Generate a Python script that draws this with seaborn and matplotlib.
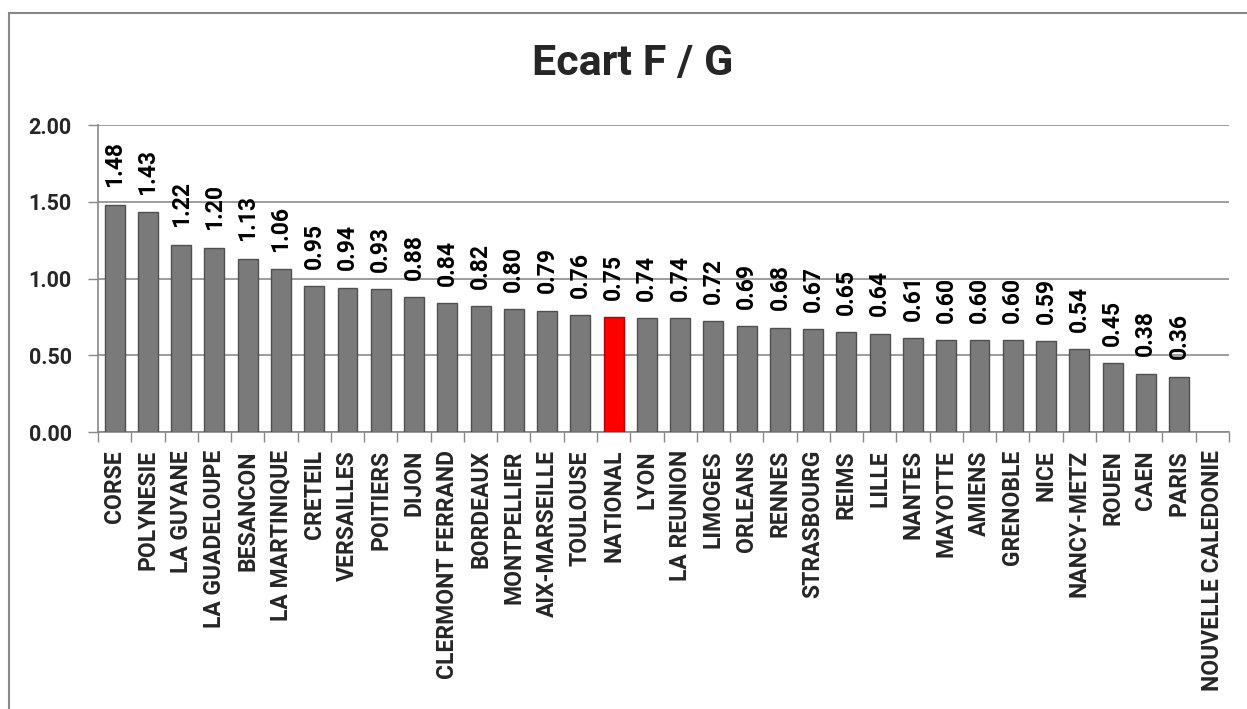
import numpy as np
import pandas as pd
import matplotlib
matplotlib.use("Agg")
import matplotlib.pyplot as plt
import seaborn as sns
from matplotlib.lines import Line2D

categories = ["CORSE", "POLYNESIE", "LA GUYANE", "LA GUADELOUPE", "BESANCON", "LA MARTINIQUE",
              "CRETEIL", "VERSAILLES", "POITIERS", "DIJON", "CLERMONT FERRAND", "BORDEAUX",
              "MONTPELLIER", "AIX-MARSEILLE", "TOULOUSE", "NATIONAL", "LYON", "LA REUNION",
              "LIMOGES", "ORLEANS", "RENNES", "STRASBOURG", "REIMS", "LILLE", "NANTES",
              "MAYOTTE", "AMIENS", "GRENOBLE", "NICE", "NANCY-METZ", "ROUEN", "CAEN", "PARIS",
              "NOUVELLE CALEDONIE"]
values = [1.48, 1.43, 1.22, 1.20, 1.13, 1.06, 0.95, 0.94, 0.93, 0.88, 0.84, 0.82, 0.80, 0.79,
          0.76, 0.75, 0.74, 0.74, 0.72, 0.69, 0.68, 0.67, 0.65, 0.64, 0.61, 0.60, 0.60, 0.60,
          0.59, 0.54, 0.45, 0.38, 0.36, np.nan]
highlight = "NATIONAL"
title = "Ecart F / G"
yticks = [0.0, 0.5, 1.0, 1.5, 2.0]

df = pd.DataFrame({"cat": categories, "val": values})

sns.set_theme(style="white")
plt.rcParams['font.family'] = ['Roboto', 'DejaVu Sans']

fig = plt.figure(figsize=(12.47, 7.09), dpi=100)
ax = fig.add_axes([98/1247, 1-432/709, (1229-98)/1247, (432-125)/709])

palette = {c: ("#ff0000" if c == highlight else "#7a7a7a") for c in categories}
sns.barplot(data=df, x="cat", y="val", hue="cat", order=categories, hue_order=categories,
            palette=palette, legend=False, width=0.6, saturation=1, ax=ax, zorder=3)

for p in ax.patches:
    fc = p.get_facecolor()
    if fc[0] > 0.9 and fc[1] < 0.1:
        p.set_edgecolor("#b00000")
    else:
        p.set_edgecolor("#505050")
    p.set_linewidth(1.0)

for i, v in enumerate(values):
    if np.isnan(v):
        continue
    ax.annotate(f"{v:.2f}", (i, v), xytext=(0, 12.5), textcoords="offset points",
                rotation=90, ha="center", va="bottom", fontsize=16.5, fontweight="bold",
                color="black")

ax.set_ylim(0, 2.0)
ax.set_xlim(-0.5, len(categories) - 0.5)
ax.set_yticks(yticks)
ax.set_yticklabels([f"{t:.2f}" for t in yticks], fontsize=15.5, fontweight="bold")
ax.set_xticks(range(len(categories)))
ax.set_xticklabels(categories, rotation=90, fontsize=16.5, fontweight="bold")
ax.set_xticks(np.arange(-0.5, len(categories), 1.0), minor=True)
ax.tick_params(axis="x", which="major", length=0, pad=13)
ax.tick_params(axis="x", which="minor", length=7, width=1, color="#888888", direction="out", bottom=True)
ax.tick_params(axis="y", length=7, width=1, color="#888888", direction="out", left=True, pad=12)
ax.set_xlabel("")
ax.set_ylabel("")
ax.grid(axis="y", color="#8c8c8c", linewidth=1.2, zorder=0)
ax.set_axisbelow(True)
for s in ["top", "right"]:
    ax.spines[s].set_visible(False)
for s in ["left", "bottom"]:
    ax.spines[s].set_color("#888888")
    ax.spines[s].set_linewidth(1.2)

fig.text(633/1247, 1-64/709, title, ha="center", va="center", fontsize=31, fontweight="bold")

# outer chart border (top and left edges visible within the image)
fig.add_artist(Line2D([9/1247, 1.0], [1-13/709, 1-13/709], transform=fig.transFigure,
                      color="#888888", linewidth=1.5))
fig.add_artist(Line2D([9/1247, 9/1247], [0.0, 1-13/709], transform=fig.transFigure,
                      color="#888888", linewidth=1.5))

fig.savefig("out.png", dpi=100)
